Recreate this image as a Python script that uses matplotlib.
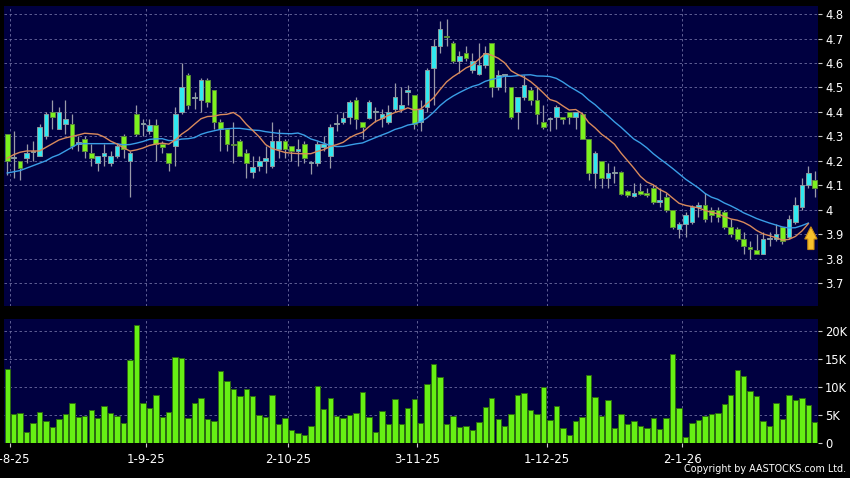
import numpy as np
import pandas as pd
import matplotlib
matplotlib.use("Agg")
import matplotlib.pyplot as plt

# daily candles, 31-7-25 .. 30-1-26
opens = [4.31, 4.21, 4.20, 4.21, 4.235, 4.22, 4.30, 4.40, 4.33, 4.35,
         4.35, 4.27, 4.29, 4.23, 4.19, 4.22, 4.19, 4.22, 4.30, 4.20,
         4.39, 4.35, 4.32, 4.345, 4.27, 4.23, 4.26, 4.40, 4.55, 4.455,
         4.45, 4.53, 4.49, 4.36, 4.33, 4.27, 4.28, 4.23, 4.155, 4.18,
         4.20, 4.18, 4.25, 4.28, 4.26, 4.24, 4.27, 4.19, 4.19, 4.255,
         4.22, 4.35, 4.36, 4.38, 4.45, 4.36, 4.375, 4.40, 4.375, 4.36,
         4.41, 4.41, 4.48, 4.47, 4.36, 4.42, 4.58, 4.67, 4.71, 4.68,
         4.61, 4.64, 4.57, 4.555, 4.59, 4.68, 4.50, 4.55, 4.50, 4.40,
         4.46, 4.49, 4.45, 4.36, 4.37, 4.38, 4.38, 4.40, 4.38, 4.39,
         4.29, 4.15, 4.20, 4.13, 4.15, 4.155, 4.075, 4.055, 4.075, 4.07,
         4.09, 4.03, 4.05, 4.00, 3.92, 3.94, 3.95, 4.01, 4.02, 4.00,
         4.00, 3.99, 3.93, 3.92, 3.88, 3.847, 3.835, 3.82, 3.88, 3.88,
         3.93, 3.89, 3.95, 4.01, 4.10, 4.12]
highs = [4.31, 4.32, 4.20, 4.27, 4.28, 4.35, 4.40, 4.45, 4.42, 4.45,
         4.39, 4.30, 4.30, 4.27, 4.22, 4.27, 4.24, 4.27, 4.31, 4.24,
         4.43, 4.37, 4.37, 4.37, 4.28, 4.23, 4.42, 4.60, 4.56, 4.48,
         4.54, 4.54, 4.49, 4.37, 4.33, 4.36, 4.29, 4.25, 4.22, 4.22,
         4.26, 4.36, 4.33, 4.29, 4.26, 4.29, 4.28, 4.20, 4.28, 4.30,
         4.35, 4.39, 4.40, 4.45, 4.46, 4.36, 4.45, 4.42, 4.41, 4.43,
         4.52, 4.50, 4.51, 4.47, 4.45, 4.58, 4.70, 4.77, 4.78, 4.69,
         4.65, 4.67, 4.64, 4.68, 4.67, 4.68, 4.57, 4.555, 4.50, 4.46,
         4.55, 4.50, 4.50, 4.43, 4.38, 4.43, 4.38, 4.40, 4.40, 4.40,
         4.29, 4.24, 4.20, 4.19, 4.18, 4.16, 4.08, 4.11, 4.11, 4.09,
         4.10, 4.09, 4.07, 4.00, 3.95, 3.99, 4.02, 4.03, 4.07, 4.01,
         4.01, 4.00, 3.96, 3.93, 3.91, 3.87, 3.90, 3.91, 3.91, 3.94,
         3.93, 3.98, 4.05, 4.13, 4.18, 4.16]
lows = [4.14, 4.13, 4.12, 4.19, 4.20, 4.22, 4.29, 4.33, 4.33, 4.31,
        4.25, 4.24, 4.21, 4.18, 4.16, 4.18, 4.18, 4.21, 4.21, 4.05,
        4.30, 4.30, 4.31, 4.20, 4.23, 4.16, 4.18, 4.39, 4.41, 4.41,
        4.40, 4.42, 4.33, 4.24, 4.24, 4.19, 4.22, 4.13, 4.13, 4.16,
        4.15, 4.17, 4.21, 4.21, 4.20, 4.18, 4.19, 4.145, 4.18, 4.24,
        4.17, 4.32, 4.35, 4.35, 4.33, 4.29, 4.37, 4.36, 4.34, 4.35,
        4.40, 4.40, 4.43, 4.33, 4.32, 4.40, 4.43, 4.64, 4.67, 4.60,
        4.56, 4.61, 4.56, 4.55, 4.58, 4.46, 4.49, 4.48, 4.37, 4.33,
        4.45, 4.43, 4.35, 4.33, 4.32, 4.33, 4.35, 4.35, 4.33, 4.29,
        4.12, 4.09, 4.09, 4.09, 4.11, 4.06, 4.05, 4.05, 4.06, 4.05,
        4.025, 4.01, 3.99, 3.92, 3.885, 3.89, 3.94, 3.97, 3.95, 3.95,
        3.95, 3.92, 3.89, 3.87, 3.82, 3.80, 3.82, 3.82, 3.85, 3.87,
        3.86, 3.88, 3.94, 4.00, 4.09, 4.05]
closes = [4.20, 4.215, 4.17, 4.23, 4.24, 4.34, 4.39, 4.38, 4.40, 4.37,
          4.26, 4.275, 4.24, 4.21, 4.22, 4.23, 4.22, 4.26, 4.25, 4.23,
          4.31, 4.35, 4.345, 4.27, 4.255, 4.19, 4.39, 4.50, 4.43, 4.46,
          4.53, 4.44, 4.36, 4.33, 4.27, 4.265, 4.22, 4.19, 4.175, 4.20,
          4.21, 4.28, 4.28, 4.25, 4.24, 4.25, 4.21, 4.195, 4.27, 4.27,
          4.34, 4.355, 4.375, 4.44, 4.37, 4.34, 4.44, 4.405, 4.39, 4.40,
          4.46, 4.43, 4.49, 4.35, 4.41, 4.57, 4.67, 4.74, 4.705, 4.61,
          4.63, 4.62, 4.61, 4.59, 4.64, 4.50, 4.55, 4.55, 4.38, 4.46,
          4.51, 4.45, 4.39, 4.34, 4.375, 4.42, 4.37, 4.38, 4.40, 4.29,
          4.15, 4.23, 4.13, 4.15, 4.155, 4.065, 4.06, 4.07, 4.065, 4.06,
          4.03, 4.04, 4.00, 3.93, 3.94, 3.98, 4.01, 4.02, 3.96, 3.98,
          3.97, 3.93, 3.90, 3.88, 3.85, 3.84, 3.82, 3.88, 3.885, 3.90,
          3.87, 3.96, 4.02, 4.10, 4.15, 4.09]
# volume in thousands
volumes = [13.2, 5.2, 5.3, 2.0, 3.6, 5.5, 3.9, 2.8, 4.2, 5.2,
           7.1, 4.7, 4.9, 5.8, 4.5, 6.6, 5.3, 4.9, 3.5, 14.8,
           21.1, 7.2, 6.2, 8.6, 4.7, 5.6, 15.3, 15.2, 4.4, 7.1,
           8.0, 4.3, 4.0, 12.9, 11.1, 9.7, 8.4, 9.6, 8.4, 5.0,
           4.6, 8.5, 3.3, 4.5, 2.3, 1.7, 1.5, 3.1, 10.1, 6.0,
           8.0, 4.9, 4.4, 5.0, 5.3, 9.1, 4.7, 2.0, 5.7, 3.4,
           7.9, 3.3, 6.3, 7.8, 3.6, 10.5, 14.1, 11.8, 3.4, 4.9,
           2.8, 3.1, 2.4, 3.7, 6.5, 8.0, 4.3, 3.0, 5.1, 8.5,
           8.9, 5.8, 5.2, 9.9, 4.1, 6.6, 2.7, 1.5, 3.9, 4.6,
           12.2, 8.2, 4.9, 7.6, 2.7, 5.2, 3.4, 4.0, 3.1, 2.6,
           4.5, 2.5, 4.4, 15.9, 6.3, 1.0, 3.5, 4.1, 4.8, 5.1,
           5.4, 6.9, 8.5, 13.0, 11.9, 9.3, 8.4, 4.0, 3.0, 7.2,
           4.3, 8.6, 7.7, 8.1, 6.8, 3.8]
# moving averages before their window is full (earlier data is off-chart)
ma10_head = [4.21, 4.225, 4.235, 4.24, 4.24, 4.24, 4.255, 4.27, 4.285]
ma20_head = [4.15, 4.155, 4.16, 4.17, 4.18, 4.19, 4.20, 4.215, 4.225, 4.24,
             4.255, 4.27, 4.27, 4.27, 4.27, 4.27, 4.27, 4.27, 4.265]

date_labels = ["1-8-25", "1-9-25", "2-10-25", "3-11-25", "1-12-25", "2-1-26"]
date_bars = [1, 22, 44, 64, 84, 105]   # first trading day of each month
price_ticks = [3.7, 3.8, 3.9, 4.0, 4.1, 4.2, 4.3, 4.4, 4.5, 4.6, 4.7, 4.8]
vol_ticks = [0, 5, 10, 15, 20]

BG = "#000040"
GRID = "#6c6ca0"
UP = "#30e8f0"
DOWN = "#7cf21e"

o = np.array(opens)
h = np.array(highs)
l = np.array(lows)
c = np.array(closes)
n = len(c)
x = np.arange(n)
up = c >= o

close_s = pd.Series(c)
ma10 = close_s.rolling(10).mean().to_numpy()
ma20 = close_s.rolling(20).mean().to_numpy()
ma10[:len(ma10_head)] = ma10_head
ma20[:len(ma20_head)] = ma20_head

fig = plt.figure(figsize=(8.5, 4.78), dpi=100, facecolor="black")
ax = fig.add_axes([4 / 850, 1 - 306 / 478, 814 / 850, 300 / 478])
axv = fig.add_axes([4 / 850, 1 - 443 / 478, 814 / 850, 124 / 478])

grid_x = [b - 0.5 for b in date_bars]
for a in (ax, axv):
    a.set_facecolor(BG)
    for s in a.spines.values():
        s.set_visible(False)
    a.set_xlim(-0.5, n - 0.5)
    for gx in grid_x:
        a.axvline(gx, color=GRID, lw=0.6, ls=(0, (3, 3)), zorder=0)
    a.yaxis.tick_right()
    a.tick_params(axis="y", colors="#cccccc", labelcolor="white", length=3,
                  width=0.8, labelsize=8.3, pad=2)

# price panel
ax.set_ylim(3.606, 4.833)
ax.set_yticks(price_ticks)
ax.set_yticklabels([f"{v:g}" for v in price_ticks])
for py in price_ticks:
    ax.axhline(py, color=GRID, lw=0.6, ls=(0, (3, 3)), zorder=0)
ax.set_xticks([])

ax.vlines(x, l, h, color="#9a9aa8", lw=0.9, zorder=2)
body_lo = np.minimum(o, c)
body_h = np.maximum(np.abs(c - o), 0.005)
ax.bar(x[up], body_h[up], bottom=body_lo[up], width=0.72, color=UP,
       edgecolor="#8a9aa0", linewidth=0.7, zorder=3)
ax.bar(x[~up], body_h[~up], bottom=body_lo[~up], width=0.72, color=DOWN,
       edgecolor="#5a8a3a", linewidth=0.7, zorder=3)

# MA lines stop at the bar before the last one
ax.plot(x[:-1], ma20[:-1], color="#3a9ee6", lw=1.0, zorder=4)
ax.plot(x[:-1], ma10[:-1], color="#d98a5c", lw=1.0, zorder=4)

# yellow up arrow under the MA end
ax_x = n - 1.6
tip = 3.93
arrow_x = [ax_x, ax_x + 0.95, ax_x + 0.48, ax_x + 0.48, ax_x - 0.48, ax_x - 0.48, ax_x - 0.95]
arrow_y = [tip, tip - 0.05, tip - 0.05, tip - 0.093, tip - 0.093, tip - 0.05, tip - 0.05]
ax.fill(arrow_x, arrow_y, facecolor="#f7c02c", edgecolor="#c98a12", lw=0.8, zorder=5)

# volume panel
axv.set_ylim(0, 22.1)
axv.set_yticks(vol_ticks)
axv.set_yticklabels([f"{v}K" if v else "0" for v in vol_ticks])
for vy in vol_ticks[1:]:
    axv.axhline(vy, color=GRID, lw=0.6, ls=(0, (3, 3)), zorder=0)
axv.bar(x, volumes, width=0.84, color="#66f014", edgecolor="#2c6a12",
        linewidth=0.7, zorder=3)
axv.set_xticks(grid_x)
axv.set_xticklabels(date_labels)
axv.tick_params(axis="x", colors="#cccccc", labelcolor="white", length=3,
                width=0.8, labelsize=8.5, pad=4)

fig.text(0.996, 0.008, "Copyright by AASTOCKS.com Ltd.", color="white",
         fontsize=6.9, ha="right", va="bottom")

fig.savefig("out.png", dpi=100, facecolor="black")
